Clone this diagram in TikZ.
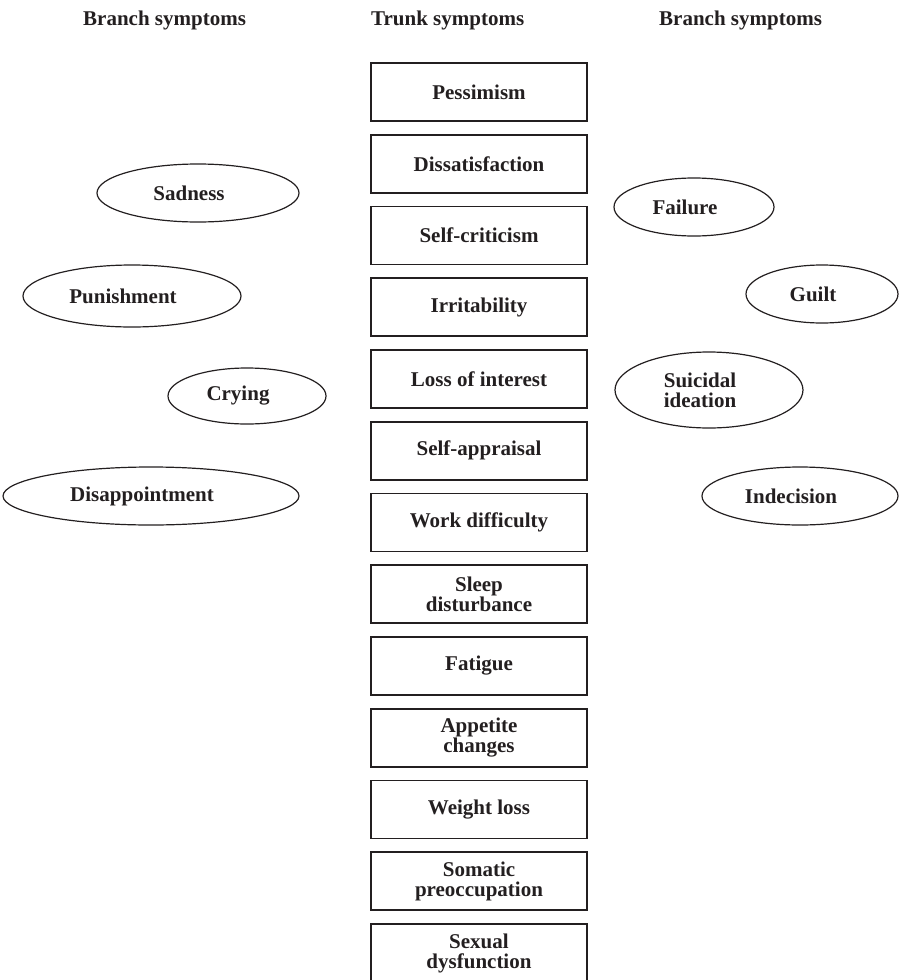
\documentclass[tikz,border=0pt]{standalone}
\usepackage{fontspec}
\setmainfont{Liberation Serif}
\usetikzlibrary{shapes.geometric}
\usepackage{xcolor}
\definecolor{ink}{RGB}{35,31,32}
\newcommand{\boxfont}{\fontsize{21}{20}\selectfont\bfseries}
\tikzset{
 trunk/.style={draw=ink, line width=1.6pt, minimum width=216pt, minimum height=58pt, inner sep=0, align=center, text=ink, font=\boxfont},
 branch/.style={draw=ink, line width=1.2pt, ellipse, inner sep=0},
 lbl/.style={xshift=-9pt, align=center, inner sep=0, text=ink, font=\boxfont},
 head/.style={anchor=base west, inner sep=0, text=ink, font=\boxfont}
}

\begin{document}
\begin{tikzpicture}[x=1pt, y=-1pt]
\useasboundingbox (0,0) rectangle (898,980);
% column titles
\node[head] (hl) at (83,25) {Branch symptoms};
\node[head] (hm) at (371,25) {Trunk symptoms};
\node[head] (hr) at (659,25) {Branch symptoms};
% trunk
\foreach \txt [count=\i from 0] in {Pessimism, Dissatisfaction, Self-criticism, Irritability, Loss of interest, Self-appraisal, Work difficulty, {Sleep\\disturbance}, Fatigue, {Appetite\\changes}, Weight loss, {Somatic\\preoccupation}, {Sexual\\dysfunction}} {
 \node[trunk] (t\i) at (479, 92+71.75*\i) {\txt};
}
% branches
\foreach \nm/\cx/\cy/\w/\h/\txt in {sad/198/193/202/58/Sadness, pun/132/296/218/62/Punishment, cry/247/396/158/56/Crying, dis/151/496/296/58/Disappointment, fail/694/207/160/58/Failure, guilt/822/294/152/58/Guilt, sui/709/390/188/76/{Suicidal\\ideation}, ind/800/496/196/58/Indecision} {
 \node[branch, minimum width=\w pt, minimum height=\h pt, label={[lbl]center:\txt}] (\nm) at (\cx,\cy) {};
}
\end{tikzpicture}
\end{document}
